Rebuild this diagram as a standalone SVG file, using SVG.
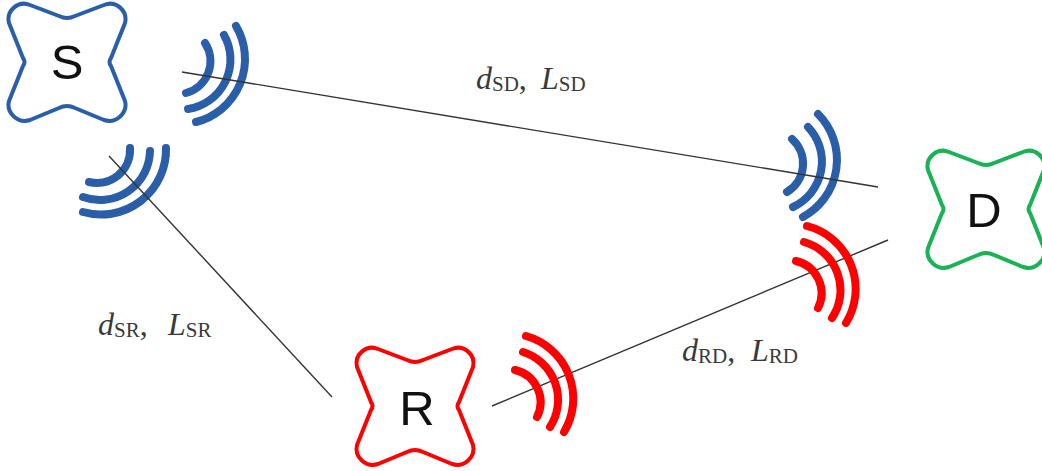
<svg xmlns="http://www.w3.org/2000/svg" width="1042" height="471" viewBox="0 0 1042 471">
<style>
.shape{fill:none;stroke-width:4;stroke-linejoin:round}
.letter{font-family:"Liberation Sans",Arial,sans-serif;font-size:49px;fill:#111;text-anchor:middle}
.wave{fill:none;stroke-width:8;stroke-linecap:round}
.blue{stroke:#2a5ea8}
.red{stroke:#fe0000}
.green{stroke:#19b254}
.conn{stroke:#333;stroke-width:1.4;fill:none}
.lab{font-family:"Liberation Serif","Times New Roman",serif;font-size:32px;fill:#3a3a3a}
.lab .v{font-style:italic}
.lab .s{font-size:21px}
</style>
<defs>
<path id="star" d="M-8,-46 Q0,-42 8,-46 L37,-57 C49,-62 61,-51 58,-39 L44,-4 Q41,0 44,4 L58,39 C61,51 49,62 37,58 L8,46 Q0,42 -8,46 L-37,58 C-49,62 -61,51 -58,39 L-44,4 Q-41,0 -44,-4 L-58,-39 C-61,-51 -49,-62 -37,-57 Z"/>
</defs>
<g id="wave-S-D-start" class="wave blue">
<path d="M205,43A33,33 0 0 1 186,93"/>
<path d="M224,35A50,50 0 0 1 188,109"/>
<path d="M236,26A65,65 0 0 1 196,122"/>
</g>
<g id="wave-S-R-start" class="wave blue">
<path d="M130,148A33,33 0 0 1 89,182"/>
<path d="M150,151A50,50 0 0 1 83,197"/>
<path d="M166,148A65,65 0 0 1 83,212"/>
</g>
<g id="wave-S-D-end" class="wave blue">
<path d="M792,139A33,33 0 0 1 787,192"/>
<path d="M808,127A50,50 0 0 1 793,207"/>
<path d="M818,114A65,65 0 0 1 803,217"/>
</g>
<g id="connectors" class="conn">
<path d="M182,72L878,187"/>
<path d="M109,156L332,397"/>
<path d="M492,406L888,240"/>
</g>
<g id="wave-R-D-end" class="wave red">
<path d="M796,261A33,33 0 0 1 818,308"/>
<path d="M804,242A50,50 0 0 1 832,318"/>
<path d="M807,226A65,65 0 0 1 846,323"/>
</g>
<g id="wave-R-D-start" class="wave red">
<path d="M515,370A33,33 0 0 1 537,417"/>
<path d="M523,352A50,50 0 0 1 550,427"/>
<path d="M526,336A65,65 0 0 1 564,432"/>
</g>
<g id="node-S"><use href="#star" x="67" y="62" class="shape blue"/><text class="letter" x="67" y="79">S</text></g>
<g id="node-R"><use href="#star" x="415" y="406" class="shape red"/><text class="letter" x="417" y="425">R</text></g>
<g id="node-D"><use href="#star" x="986" y="209" class="shape green"/><text class="letter" x="984" y="227">D</text></g>
<g id="labels">
<text class="lab" y="89"><tspan class="v" x="476">d</tspan><tspan class="s" dy="2">SD</tspan><tspan dy="-2">,</tspan><tspan class="v" x="541">L</tspan><tspan class="s" dy="2">SD</tspan></text>
<text class="lab" y="335"><tspan class="v" x="98">d</tspan><tspan class="s" dy="2">SR</tspan><tspan dy="-2">,</tspan><tspan class="v" x="168">L</tspan><tspan class="s" dy="2">SR</tspan></text>
<text class="lab" y="361"><tspan class="v" x="682">d</tspan><tspan class="s" dy="2">RD</tspan><tspan dy="-2">,</tspan><tspan class="v" x="751">L</tspan><tspan class="s" dy="2">RD</tspan></text>
</g>
</svg>
